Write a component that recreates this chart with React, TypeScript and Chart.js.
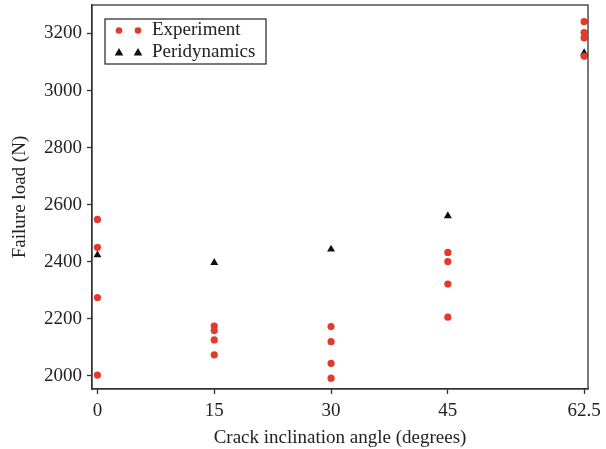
import React, { useEffect, useRef } from "react";
import { Chart, registerables } from "chart.js";

Chart.register(...registerables);

const xTickValues = [0, 15, 30, 45, 62.5];
const yTickValues = [2000, 2200, 2400, 2600, 2800, 3000, 3200];

const experimentX = [0, 0, 0, 0, 15, 15, 15, 15, 30, 30, 30, 30, 45, 45, 45, 45, 62.5, 62.5, 62.5, 62.5];
const experimentY = [2548, 2450, 2274, 2002, 2174, 2158, 2125, 2073, 2172, 2119, 2043, 1991, 2432, 2400, 2321, 2205, 3242, 3203, 3185, 3120];

const periX = [0, 15, 30, 45, 62.5];
const periY = [2423, 2396, 2443, 2560, 3132];

const legendLabels = ["Experiment", "Peridynamics"];

const RED = "#e23a2c";
const BLACK = "#111111";
const FONT = "'Liberation Serif', 'DejaVu Serif', serif";

const framePlugin = {
  id: "frameAndLegend",
  afterDraw(chart: any) {
    const { ctx, chartArea } = chart;
    ctx.save();
    ctx.strokeStyle = "#333";
    ctx.lineWidth = 1.3;
    ctx.strokeRect(chartArea.left, chartArea.top, chartArea.right - chartArea.left, chartArea.bottom - chartArea.top);

    // legend
    const bx = 105, by = 19, bw = 161, bh = 45;
    ctx.fillStyle = "#fff";
    ctx.fillRect(bx, by, bw, bh);
    ctx.lineWidth = 1.2;
    ctx.strokeStyle = "#222";
    ctx.strokeRect(bx, by, bw, bh);
    const rows = [by + 11.5, by + 33.5];
    const mx = [119, 138];
    ctx.fillStyle = RED;
    for (const x of mx) {
      ctx.beginPath();
      ctx.arc(x, rows[0], 3.3, 0, Math.PI * 2);
      ctx.fill();
    }
    ctx.fillStyle = BLACK;
    for (const x of mx) {
      ctx.beginPath();
      ctx.moveTo(x, rows[1] - 4.5);
      ctx.lineTo(x + 4.3, rows[1] + 3);
      ctx.lineTo(x - 4.3, rows[1] + 3);
      ctx.closePath();
      ctx.fill();
    }
    ctx.fillStyle = "#222";
    ctx.font = `19px ${FONT}`;
    ctx.textBaseline = "middle";
    ctx.textAlign = "left";
    ctx.fillText(legendLabels[0], 152, rows[0]);
    ctx.fillText(legendLabels[1], 152, rows[1]);
    ctx.restore();
  },
};

export default function App() {
  const ref = useRef<HTMLCanvasElement | null>(null);
  useEffect(() => {
    document.body.style.margin = "0";
    const canvas = ref.current!;
    const chart = new Chart(canvas, {
      type: "scatter",
      data: {
        datasets: [
          {
            label: legendLabels[0],
            data: experimentX.map((x, i) => ({ x, y: experimentY[i] })),
            pointStyle: "circle",
            pointRadius: 3.6,
            backgroundColor: RED,
            borderColor: RED,
            borderWidth: 0,
          },
          {
            label: legendLabels[1],
            data: periX.map((x, i) => ({ x, y: periY[i] })),
            pointStyle: "triangle",
            pointRadius: 4.6,
            backgroundColor: BLACK,
            borderColor: BLACK,
            borderWidth: 0,
          },
        ],
      },
      options: {
        animation: false,
        responsive: false,
        layout: { padding: { top: 5, right: 18, left: 0, bottom: 0 } },
        plugins: { legend: { display: false }, tooltip: { enabled: false } },
        scales: {
          x: {
            type: "linear",
            min: -0.7,
            max: 63,
            afterBuildTicks: (s: any) => {
              s.ticks = xTickValues.map((v) => ({ value: v }));
            },
            afterFit: (s: any) => {
              s.height = 60;
              s.paddingLeft = 0;
              s.paddingRight = 0;
            },
            grid: { drawOnChartArea: false, drawTicks: true, tickLength: 5, tickColor: "#333", tickWidth: 1.3 },
            border: { display: true, color: "#333", width: 1.3 },
            ticks: {
              padding: 6,
              color: "#222",
              font: { family: FONT, size: 19 },
              callback: (v: any) => String(v),
              maxRotation: 0,
              autoSkip: false,
            },
            title: {
              display: true,
              text: "Crack inclination angle (degrees)",
              color: "#222",
              font: { family: FONT, size: 19 },
              padding: { top: 2, bottom: 0 },
            },
          },
          y: {
            type: "linear",
            min: 1953,
            max: 3300,
            afterBuildTicks: (s: any) => {
              s.ticks = yTickValues.map((v) => ({ value: v }));
            },
            afterFit: (s: any) => {
              s.width = 92;
              s.paddingTop = 0;
              s.paddingBottom = 0;
            },
            grid: { drawOnChartArea: false, drawTicks: true, tickLength: 5, tickColor: "#333", tickWidth: 1.3 },
            border: { display: true, color: "#333", width: 1.3 },
            ticks: {
              padding: 5,
              color: "#222",
              font: { family: FONT, size: 19 },
              callback: (v: any) => String(v),
              autoSkip: false,
            },
            title: {
              display: true,
              text: "Failure load (N)",
              color: "#222",
              font: { family: FONT, size: 19 },
              padding: { top: 9, bottom: 0 },
            },
          },
        },
      },
      plugins: [framePlugin],
    } as any);
    return () => chart.destroy();
  }, []);
  return (
    <div style={{ width: 606, height: 449 }}>
      <canvas ref={ref} width={606} height={449} style={{ width: 606, height: 449, display: "block" }} />
    </div>
  );
}
